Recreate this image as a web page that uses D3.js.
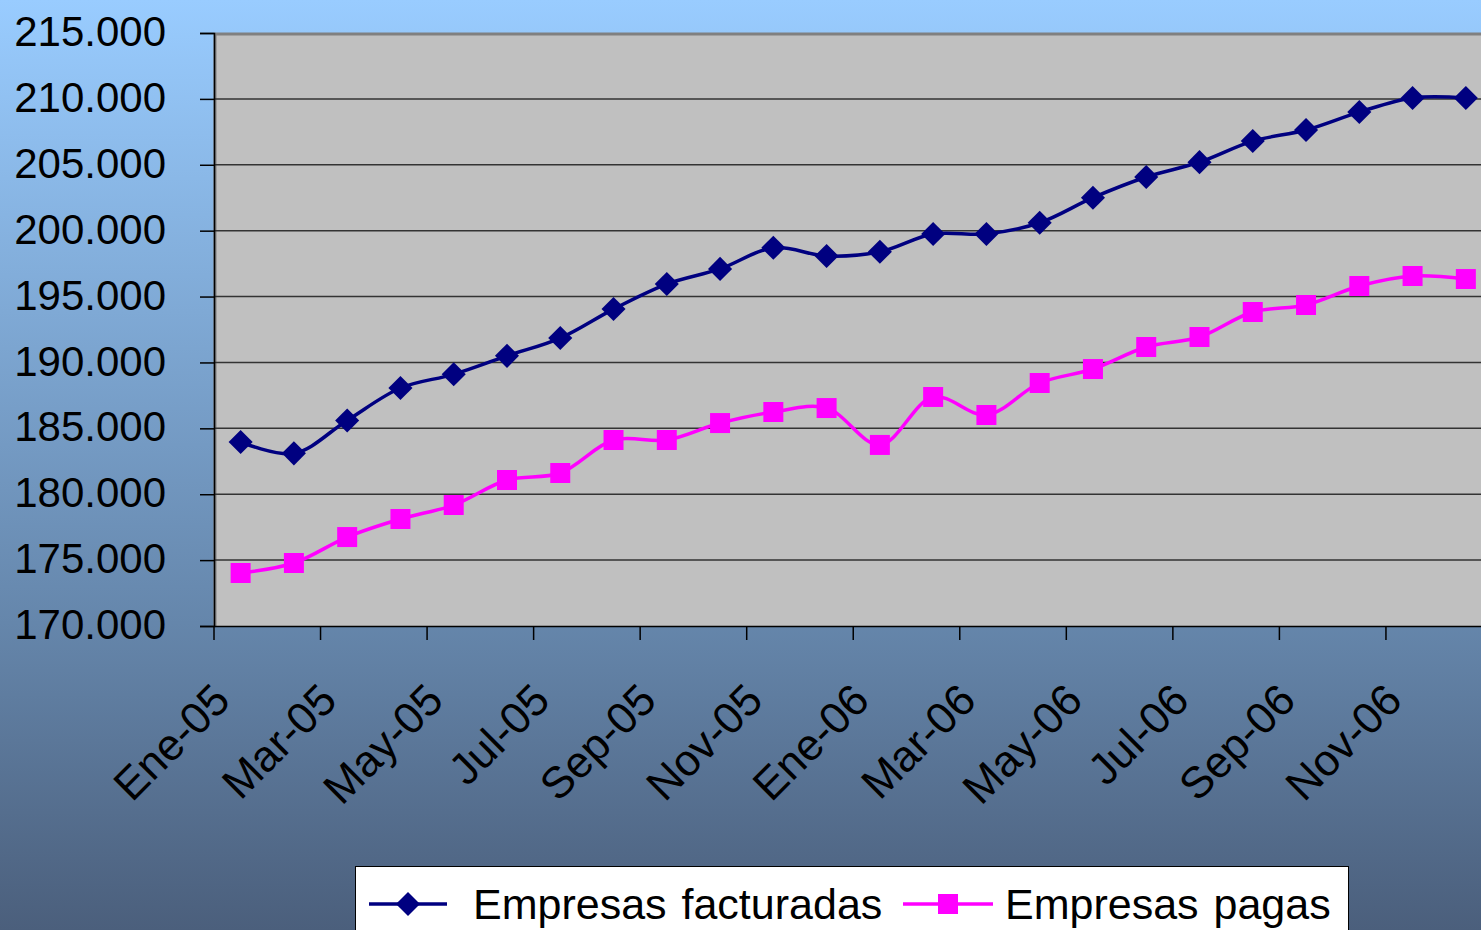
<!DOCTYPE html>
<html>
<head>
<meta charset="utf-8">
<script src="https://cdn.jsdelivr.net/npm/d3@7"></script>
<style>
  html, body { margin: 0; padding: 0; overflow: hidden; }
  svg { display: block; font-family: "Liberation Sans", Arial, sans-serif; }
</style>
</head>
<body>
<script>
var months = ["Ene-05", "Feb-05", "Mar-05", "Abr-05", "May-05", "Jun-05",
              "Jul-05", "Ago-05", "Sep-05", "Oct-05", "Nov-05", "Dic-05",
              "Ene-06", "Feb-06", "Mar-06", "Abr-06", "May-06", "Jun-06",
              "Jul-06", "Ago-06", "Sep-06", "Oct-06", "Nov-06", "Dic-06"];

var facturadas = [183960, 183100, 185600, 188060, 189100, 190500,
                  191850, 194050, 195950, 197100, 198700, 198080,
                  198400, 199750, 199750, 200600, 202500, 204070,
                  205200, 206800, 207640, 209000, 210070, 210070];

var pagas = [174020, 174780, 176750, 178120, 179180, 181080,
             181610, 184115, 184115, 185400, 186240, 186540,
             183740, 187380, 186010, 188440, 189500, 191170,
             191930, 193830, 194360, 195800, 196560, 196330];

var yTicks = [170000, 175000, 180000, 185000, 190000, 195000, 200000, 205000, 210000, 215000];

var seriesNames = ["Empresas facturadas", "Empresas pagas"];

var width  = 1481,
    height = 930;

var plotLeft = 214, plotTop = 33, plotBottom = 626;
var plotW = 24 * 53.27;

const svg = d3.select("body")
    .append("svg")
    .attr("width", width)
    .attr("height", height);

// background gradient
var defs = svg.append("defs");
var grad = defs.append("linearGradient")
    .attr("id", "bg")
    .attr("x1", 0).attr("y1", 0).attr("x2", 0).attr("y2", 1);
grad.append("stop").attr("offset", "0").attr("stop-color", "#99ccff");
grad.append("stop").attr("offset", "0.67").attr("stop-color", "#6586ab");
grad.append("stop").attr("offset", "1").attr("stop-color", "#4b5f7c");

svg.append("rect")
    .attr("width", width)
    .attr("height", height)
    .attr("fill", "url(#bg)");

var x = d3.scaleBand()
    .domain(months)
    .range([plotLeft, plotLeft + plotW]);

var y = d3.scaleLinear()
    .domain([170000, 215000])
    .range([plotBottom, plotTop]);

function yFmt(v) { return d3.format(",")(v).replace(/,/g, "."); }

// plot area
svg.append("rect")
    .attr("x", plotLeft)
    .attr("y", plotTop)
    .attr("width", plotW)
    .attr("height", plotBottom - plotTop)
    .attr("fill", "#c0c0c0");

// plot border (top + left gray)
svg.append("line")
    .attr("x1", plotLeft).attr("x2", plotLeft + plotW)
    .attr("y1", plotTop + 1).attr("y2", plotTop + 1)
    .style("stroke", "#808080")
    .style("stroke-width", 3);
svg.append("line")
    .attr("x1", plotLeft + 1).attr("x2", plotLeft + 1)
    .attr("y1", plotTop).attr("y2", plotBottom)
    .style("stroke", "#808080")
    .style("stroke-width", 3);

// gridlines
svg.append("g")
    .selectAll("line")
    .data(yTicks.slice(1, -1))
    .join("line")
    .attr("x1", plotLeft)
    .attr("x2", plotLeft + plotW)
    .attr("y1", d => y(d))
    .attr("y2", d => y(d))
    .style("stroke", "#333333")
    .style("stroke-width", 1.5);

// y axis
var yAxis = svg.append("g")
    .attr("transform", "translate(" + plotLeft + ",0)")
    .call(d3.axisLeft(y).tickValues(yTicks).tickSize(14).tickPadding(34).tickFormat(yFmt));
yAxis.select(".domain").attr("stroke", "#000").attr("stroke-width", 1.5);
yAxis.selectAll(".tick line").attr("stroke", "#000").attr("stroke-width", 1.5);
yAxis.selectAll("text")
    .attr("fill", "#000")
    .style("font-size", "42px")
    .attr("dy", "0.3em");

// x axis
var xAxis = svg.append("g")
    .attr("transform", "translate(0," + plotBottom + ")")
    .call(d3.axisBottom(x).tickSize(0).tickFormat(""));
xAxis.select(".domain").attr("stroke", "#000").attr("stroke-width", 1.5);

var boundaries = d3.range(0, 25, 2).map(i => plotLeft + i * x.step());
xAxis.append("g")
    .selectAll("line")
    .data(boundaries)
    .join("line")
    .attr("x1", d => d).attr("x2", d => d)
    .attr("y1", 0).attr("y2", 14)
    .attr("stroke", "#000")
    .attr("stroke-width", 1.5);

svg.append("g")
    .selectAll("text")
    .data(months.filter((m, i) => i % 2 === 0))
    .join("text")
    .attr("transform", d => "translate(" + (x(d) + x.bandwidth() / 2 - 30) + "," + (plotBottom + 55) + ") rotate(-45)")
    .attr("text-anchor", "end")
    .attr("dy", "0.7em")
    .style("font-size", "44px")
    .attr("fill", "#000")
    .text(d => d);

// lines
var cx = (d, i) => x(months[i]) + x.bandwidth() / 2;

function drawSeries(values, color, shape, size) {
    var line = d3.line()
        .x((d, i) => cx(d, i))
        .y(d => y(d))
        .curve(d3.curveCatmullRom.alpha(0.5));
    svg.append("path")
        .datum(values)
        .attr("d", line)
        .attr("fill", "none")
        .style("stroke", color)
        .style("stroke-width", 3.5);
    svg.append("g")
        .selectAll("path")
        .data(values)
        .join("path")
        .attr("d", d3.symbol(d3.symbolSquare, size))
        .attr("transform", (d, i) => "translate(" + cx(d, i) + "," + y(d) + ")" + (shape === "diamond" ? " rotate(45)" : ""))
        .attr("fill", color);
}

drawSeries(facturadas, "#000080", "diamond", 290);
drawSeries(pagas, "#ff00ff", "square", 400);

// legend
var lg = svg.append("g");
lg.append("rect")
    .attr("x", 355.5)
    .attr("y", 866.5)
    .attr("width", 993)
    .attr("height", 80)
    .attr("fill", "#fff")
    .attr("stroke", "#000")
    .attr("stroke-width", 1);

var legendItems = [
    {name: seriesNames[0], color: "#000080", x0: 369, x1: 447, tx: 473, shape: "diamond"},
    {name: seriesNames[1], color: "#ff00ff", x0: 903, x1: 993, tx: 1005, shape: "square"}
];

legendItems.forEach(it => {
    var ly = 904;
    lg.append("line")
        .attr("x1", it.x0).attr("x2", it.x1)
        .attr("y1", ly).attr("y2", ly)
        .style("stroke", it.color)
        .style("stroke-width", 3.5);
    lg.append("path")
        .attr("d", d3.symbol(d3.symbolSquare, it.shape === "diamond" ? 290 : 400))
        .attr("transform", "translate(" + ((it.x0 + it.x1) / 2) + "," + ly + ")" + (it.shape === "diamond" ? " rotate(45)" : ""))
        .attr("fill", it.color);
    lg.append("text")
        .attr("x", it.tx)
        .attr("y", ly + 15)
        .style("font-size", "43px")
        .style("word-spacing", "3px")
        .attr("fill", "#000")
        .text(it.name);
});
</script>
</body>
</html>
